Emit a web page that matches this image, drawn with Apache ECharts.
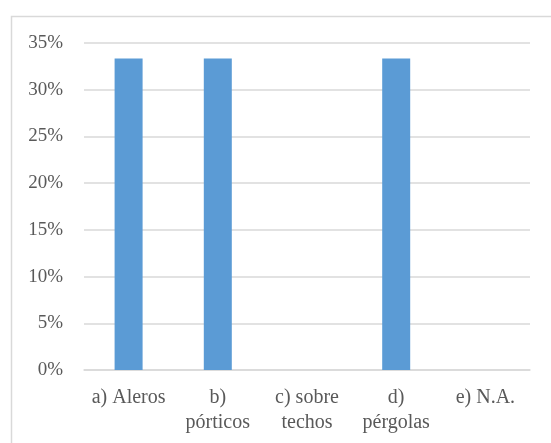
<!DOCTYPE html>
<html>
<head>
<meta charset="utf-8">
<script src="https://cdn.jsdelivr.net/npm/echarts@6/dist/echarts.min.js"></script>
<style>
  html, body { margin: 0; padding: 0; background: #fff; }
  #chart { width: 551px; height: 443px; }
</style>
</head>
<body>
<div id="chart"></div>
<script>
// Categories (line breaks where the labels wrap)
const categories = ['a) Aleros', 'b)\npórticos', 'c) sobre\ntechos', 'd)\npérgolas', 'e) N.A.'];
// Share of answers, percent
const shares = [33.33, 33.33, 0, 33.33, 0];
// Value axis range
const yMin = 0;
const yMax = 35;
const yStep = 5;

const chart = echarts.init(document.getElementById('chart'));
const fontFamily = '"Liberation Serif", "Times New Roman", serif';
const labelColor = '#595959';

chart.setOption({
  animation: false,
  backgroundColor: '#ffffff',
  graphic: [{
    type: 'rect',
    left: 9, top: 14,
    shape: { width: 600, height: 500 },
    style: { fill: 'none', stroke: '#d9d9d9', lineWidth: 1.5 },
    silent: true
  }],
  grid: { left: 84, right: 21, top: 43, bottom: 73 },
  xAxis: {
    type: 'category',
    data: categories,
    axisLine: { lineStyle: { color: '#d9d9d9', width: 1.5 } },
    axisTick: { show: false },
    axisLabel: {
      margin: 15, lineHeight: 25, interval: 0,
      fontFamily: fontFamily, fontSize: 20, color: labelColor
    }
  },
  yAxis: {
    type: 'value',
    min: yMin, max: yMax, interval: yStep,
    axisLine: { show: false },
    axisTick: { show: false },
    splitLine: { lineStyle: { color: '#d9d9d9', width: 1.5 } },
    axisLabel: {
      margin: 21, formatter: '{value}%',
      fontFamily: fontFamily, fontSize: 19, color: labelColor
    }
  },
  series: [{
    type: 'bar',
    data: shares,
    barWidth: 28,
    itemStyle: { color: '#5b9bd5' }
  }]
});
</script>
</body>
</html>
